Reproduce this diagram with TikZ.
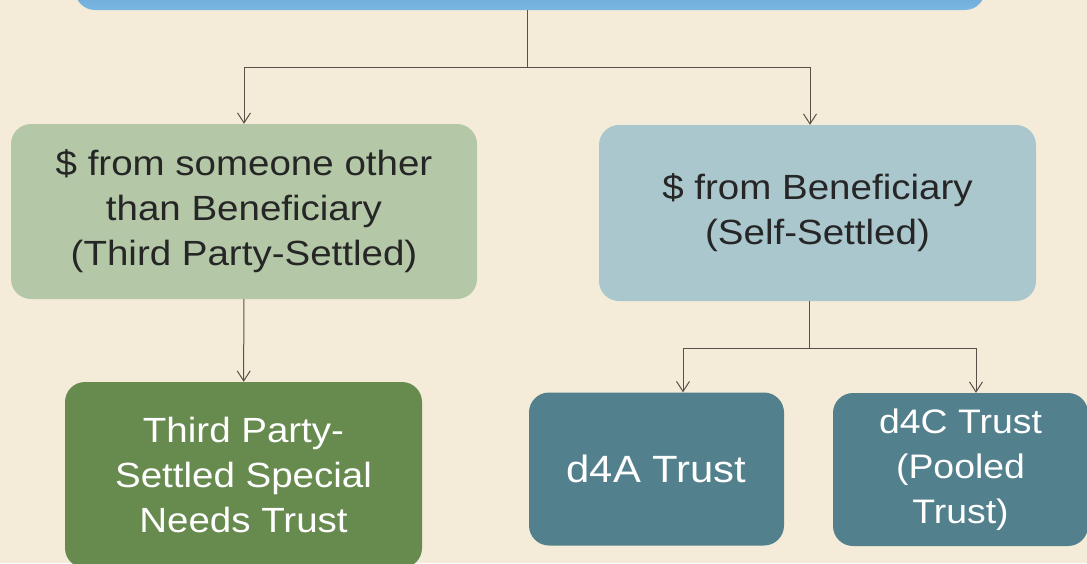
\documentclass[tikz,border=0pt]{standalone}
\usepackage{fontspec}
\setmainfont{Liberation Sans}[FakeStretch=1.1]
\usepackage{xcolor}
\usetikzlibrary{arrows.meta,positioning}
\definecolor{bg_beige}{HTML}{F4ECD9}
\definecolor{top_blue}{HTML}{58A4DA}
\definecolor{light_green}{HTML}{B4C8A7}
\definecolor{light_blue}{HTML}{AAC7CE}
\definecolor{dark_green}{HTML}{678A4F}
\definecolor{dark_teal}{HTML}{52808C}
\definecolor{line_gray}{HTML}{5B5048}
\definecolor{text_dark}{HTML}{262626}

\begin{document}
\begin{tikzpicture}[x=1pt,y=-1pt,
      box_base/.style={
         rounded corners=20pt,
         align=center,
         inner sep=0pt,
         font=\fontsize{35}{45}\selectfont},
      box_top/.style={
         box_base,
         top color=top_blue!85!black,
         bottom color=top_blue!80!white,
         minimum width=910pt,
         minimum height=70pt},
      box_light_green/.style={
         box_base,
         fill=light_green,
         text=text_dark,
         minimum width=466pt,
         minimum height=175pt},
      box_light_blue/.style={
         box_base,
         fill=light_blue,
         text=text_dark,
         minimum width=437pt,
         minimum height=176pt},
      box_dark_green/.style={
         box_base,
         fill=dark_green,
         text=white,
         minimum width=357pt,
         minimum height=186pt},
      box_teal/.style={
         box_base,
         fill=dark_teal,
         text=white,
         minimum width=255pt,
         minimum height=153pt},
      line_thin/.style={
         draw=line_gray,
         line width=1pt},
      arrow_thin/.style={
         line_thin,
         -{Straight Barb[length=10pt,width=13pt]}}
]
      \clip (0,0) rectangle (1087,563);
      \fill[bg_beige] (0,0) rectangle (1087,563);

      %top box, mostly cut off
      \node[box_top] (src) at (530,-25) {};

      %first level
      \node[box_light_green] (third) at (244,211.5) {\$ from someone other\\than Beneficiary\\(Third Party-Settled)};
      \node[box_light_blue] (self) at (817.5,213) {\$ from Beneficiary\\(Self-Settled)};

      %second level
      \node[box_dark_green] (ssnt) at (243.5,475) {Third Party-\\Settled Special\\Needs Trust};
      \node[box_teal,font=\fontsize{38}{45}\selectfont] (d4a) at (656.5,469) {d4A Trust};
      \node[box_teal,font=\fontsize{34}{45}\selectfont] (d4c) at (960.5,469.5) {d4C Trust\\(Pooled\\Trust)};

      \coordinate (fork_top) at (527,67);
      \coordinate (fork_self) at (809,348);

      \draw[line_thin] (src.south -| fork_top) -- (fork_top);
      \draw[arrow_thin] (fork_top) -| (third.north);
      \draw[arrow_thin] (fork_top) -| ([xshift=-7.5pt]self.north);
      \draw[arrow_thin] (third) -- (ssnt);
      \draw[line_thin] (self.south -| fork_self) -- (fork_self);
      \draw[arrow_thin] (fork_self) -| ([xshift=26.5pt]d4a.north);
      \draw[arrow_thin] (fork_self) -| ([xshift=15.5pt]d4c.north);
\end{tikzpicture}
\end{document}
